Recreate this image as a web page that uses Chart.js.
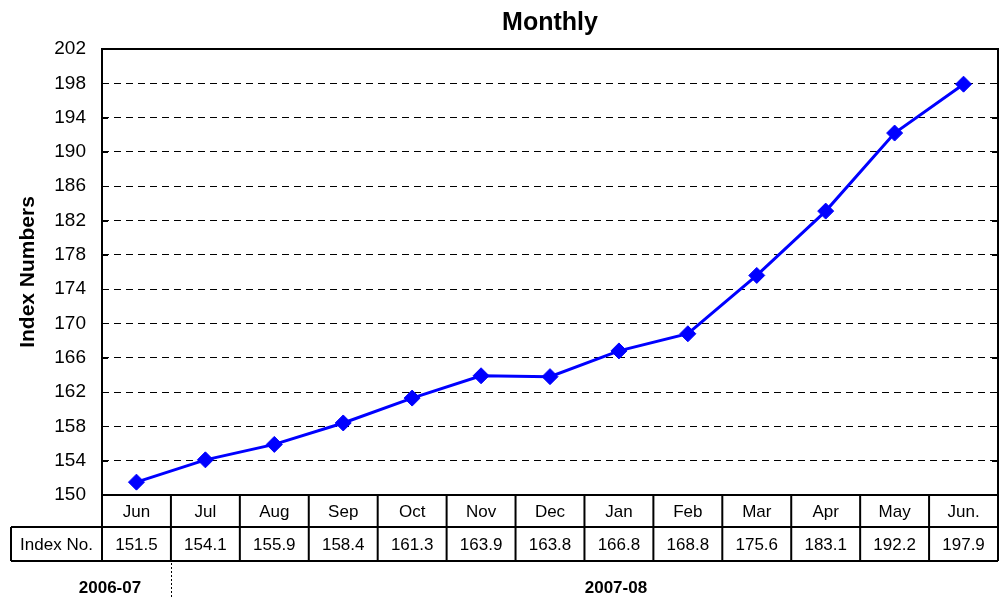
<!DOCTYPE html>
<html>
<head>
<meta charset="utf-8">
<script src="https://cdn.jsdelivr.net/npm/chart.js@4.4.1/dist/chart.umd.min.js"></script>
<style>
  html, body { margin: 0; padding: 0; background: #fff; }
  #wrap { width: 1001px; height: 603px; position: relative; }
</style>
</head>
<body>
<div id="wrap"><canvas id="chart" width="1001" height="603"></canvas></div>
<script>
// --- data ---
const months = ['Jun', 'Jul', 'Aug', 'Sep', 'Oct', 'Nov', 'Dec', 'Jan', 'Feb', 'Mar', 'Apr', 'May', 'Jun.'];
const indexValues = [151.5, 154.1, 155.9, 158.4, 161.3, 163.9, 163.8, 166.8, 168.8, 175.6, 183.1, 192.2, 197.9];
const rowLabel = 'Index No.';
const yearLabels = ['2006-07', '2007-08'];
const yMin = 150, yMax = 202, yStep = 4;

const FONT = '"Liberation Sans", Arial, sans-serif';

// plot frame + inner tick marks + data table under the plot
const tablePlugin = {
    id: 'tablePlugin',
    afterDraw(chart) {
        const ctx = chart.ctx;
        const area = chart.chartArea;
        const xs = chart.scales.x;
        const ys = chart.scales.y;
        const colW = xs.getPixelForValue(1) - xs.getPixelForValue(0);
        const edge = i => xs.getPixelForValue(i) - colW / 2;

        ctx.save();
        ctx.strokeStyle = '#000';
        ctx.lineWidth = 2;
        ctx.strokeRect(area.left, area.top, area.right - area.left, area.bottom - area.top);

        // small inward ticks on both sides
        ctx.lineWidth = 1;
        ys.ticks.forEach(t => {
            if (t.value === yMin || t.value === yMax) return;
            const y = Math.round(ys.getPixelForValue(t.value)) + 0.5;
            ctx.beginPath();
            ctx.moveTo(area.left, y); ctx.lineTo(area.left + 6, y);
            ctx.moveTo(area.right - 6, y); ctx.lineTo(area.right, y);
            ctx.stroke();
        });

        const rowH1 = 32, rowH2 = 34;
        const top = area.bottom;
        const mid = top + rowH1;
        const bot = mid + rowH2;
        const tableLeft = 11;

        ctx.lineWidth = 2;
        ctx.beginPath();
        ctx.moveTo(tableLeft, mid); ctx.lineTo(area.right, mid);
        ctx.moveTo(tableLeft, bot); ctx.lineTo(area.right, bot);
        ctx.moveTo(tableLeft, mid); ctx.lineTo(tableLeft, bot);
        for (let i = 0; i <= months.length; i++) {
            const x = edge(i);
            ctx.moveTo(x, top); ctx.lineTo(x, bot);
        }
        ctx.stroke();

        ctx.fillStyle = '#000';
        ctx.font = '17px ' + FONT;
        ctx.textAlign = 'center';
        ctx.textBaseline = 'middle';
        months.forEach((m, i) => {
            const x = xs.getPixelForValue(i);
            ctx.fillText(m, x, top + rowH1 / 2 + 1);
            ctx.fillText(indexValues[i].toFixed(1), x, mid + rowH2 / 2 + 1);
        });
        ctx.fillText(rowLabel, (tableLeft + area.left) / 2, mid + rowH2 / 2 + 1);

        // dotted separator between the two years
        ctx.lineWidth = 1;
        ctx.setLineDash([2, 2]);
        ctx.beginPath();
        ctx.moveTo(Math.round(edge(1)) + 0.5, bot + 2);
        ctx.lineTo(Math.round(edge(1)) + 0.5, bot + 36);
        ctx.stroke();
        ctx.setLineDash([]);

        ctx.font = 'bold 17px ' + FONT;
        ctx.fillText(yearLabels[0], edge(0) + 8, bot + 27);
        ctx.fillText(yearLabels[1], xs.getPixelForValue(7) - 3, bot + 27);
        ctx.restore();
    }
};

const ctx = document.getElementById('chart');
new Chart(ctx, {
    type: 'line',
    data: {
        labels: months,
        datasets: [{
            label: rowLabel,
            data: indexValues,
            borderColor: '#0000FF',
            backgroundColor: '#0000FF',
            borderWidth: 3,
            pointStyle: 'rectRot',
            pointRadius: 8,
            pointBorderWidth: 1,
            pointBackgroundColor: '#0000FF',
            pointBorderColor: '#0000FF',
            tension: 0,
            fill: false
        }]
    },
    options: {
        responsive: false,
        animation: false,
        devicePixelRatio: 1,
        layout: { autoPadding: false, padding: { left: 0, right: 3, top: 0, bottom: 108 } },
        plugins: {
            legend: { display: false },
            tooltip: { enabled: false },
            title: {
                display: true,
                fullSize: false,
                text: 'Monthly',
                color: '#000',
                font: { family: FONT, size: 25, weight: 'bold' },
                padding: { top: 8, bottom: 11 }
            }
        },
        scales: {
            x: {
                type: 'category',
                offset: true,
                display: false
            },
            y: {
                min: yMin,
                max: yMax,
                afterFit(scale) { scale.width = 102; },
                ticks: {
                    stepSize: yStep,
                    color: '#000',
                    padding: 16,
                    font: { family: FONT, size: 19 }
                },
                grid: {
                    drawTicks: false,
                    color: c => (c.tick && (c.tick.value === yMin || c.tick.value === yMax)) ? 'rgba(0,0,0,0)' : '#000',
                    lineWidth: 1
                },
                border: { display: false, dash: [7, 5] },
                title: {
                    display: true,
                    text: 'Index Numbers',
                    color: '#000',
                    font: { family: FONT, size: 21, weight: 'bold' },
                    padding: { top: 16, bottom: 0 }
                }
            }
        }
    },
    plugins: [tablePlugin]
});
</script>
</body>
</html>
